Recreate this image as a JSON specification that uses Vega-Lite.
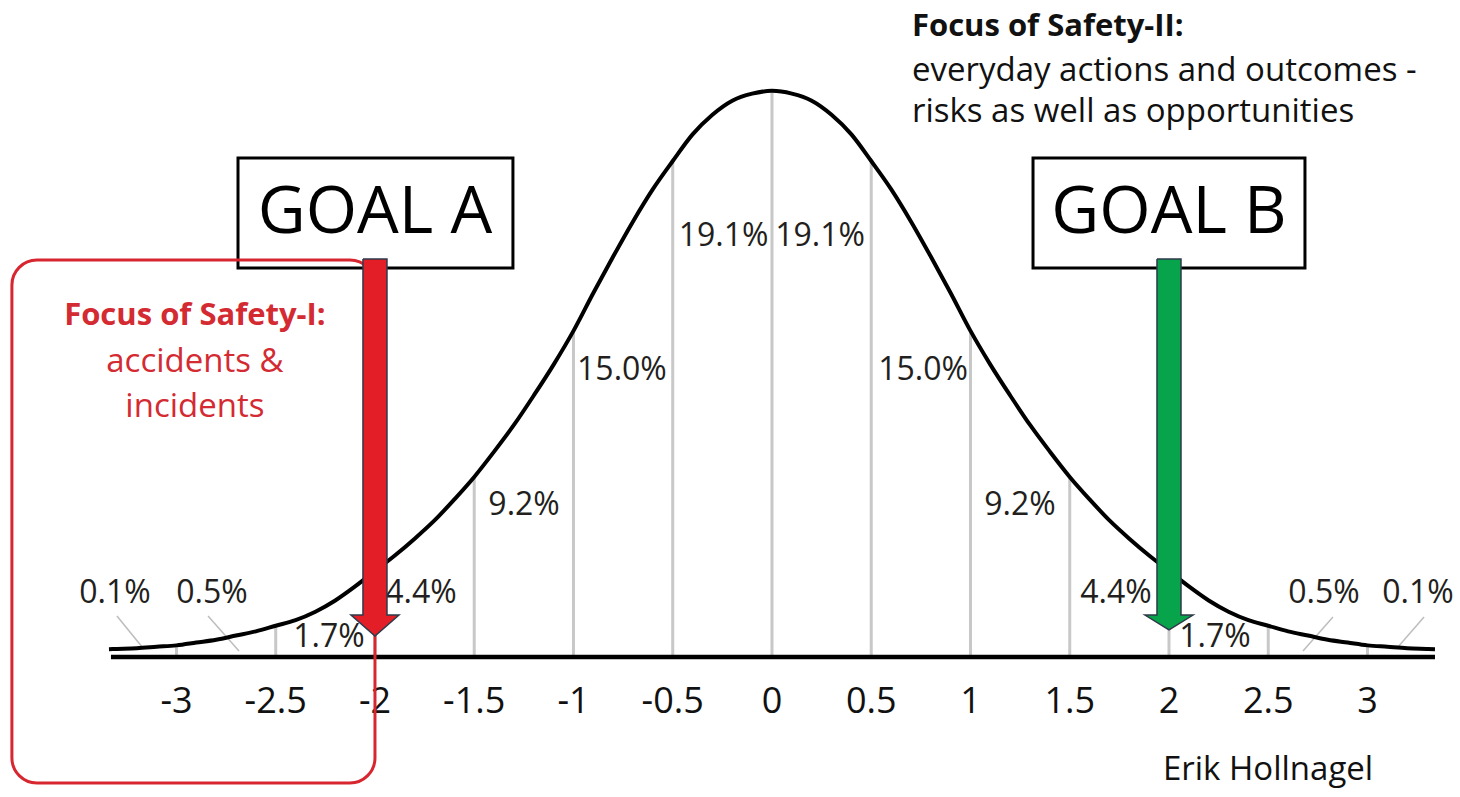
{
  "$schema": "https://vega.github.io/schema/vega-lite/v6.json",
  "width": 1460,
  "height": 797,
  "autosize": {"type": "fit", "contains": "padding"},
  "padding": 0,
  "background": "white",
  "config": {"view": {"stroke": null}, "text": {"font": "Open Sans"}},
  "datasets": {
    "curve": [
      {"x": -3.34, "d": 0.0013}, {"x": -3.3, "d": 0.0015}, {"x": -3.2, "d": 0.002}, {"x": -3.1, "d": 0.003},
      {"x": -3.0, "d": 0.004}, {"x": -2.9, "d": 0.006}, {"x": -2.8, "d": 0.008}, {"x": -2.7, "d": 0.011},
      {"x": -2.6, "d": 0.014}, {"x": -2.5, "d": 0.018}, {"x": -2.4, "d": 0.022}, {"x": -2.3, "d": 0.028},
      {"x": -2.2, "d": 0.036}, {"x": -2.1, "d": 0.046}, {"x": -2.0, "d": 0.057}, {"x": -1.9, "d": 0.068},
      {"x": -1.8, "d": 0.080}, {"x": -1.7, "d": 0.093}, {"x": -1.6, "d": 0.108}, {"x": -1.5, "d": 0.124},
      {"x": -1.4, "d": 0.142}, {"x": -1.3, "d": 0.161}, {"x": -1.2, "d": 0.182}, {"x": -1.1, "d": 0.204},
      {"x": -1.0, "d": 0.228}, {"x": -0.9, "d": 0.255}, {"x": -0.8, "d": 0.281}, {"x": -0.7, "d": 0.306},
      {"x": -0.6, "d": 0.329}, {"x": -0.5, "d": 0.349}, {"x": -0.4, "d": 0.368}, {"x": -0.3, "d": 0.382},
      {"x": -0.2, "d": 0.392}, {"x": -0.1, "d": 0.397}, {"x": 0.0, "d": 0.399},
      {"x": 0.1, "d": 0.397}, {"x": 0.2, "d": 0.392}, {"x": 0.3, "d": 0.382}, {"x": 0.4, "d": 0.368},
      {"x": 0.5, "d": 0.349}, {"x": 0.6, "d": 0.329}, {"x": 0.7, "d": 0.306}, {"x": 0.8, "d": 0.281},
      {"x": 0.9, "d": 0.255}, {"x": 1.0, "d": 0.228}, {"x": 1.1, "d": 0.204}, {"x": 1.2, "d": 0.182},
      {"x": 1.3, "d": 0.161}, {"x": 1.4, "d": 0.142}, {"x": 1.5, "d": 0.124}, {"x": 1.6, "d": 0.108},
      {"x": 1.7, "d": 0.093}, {"x": 1.8, "d": 0.080}, {"x": 1.9, "d": 0.068}, {"x": 2.0, "d": 0.057},
      {"x": 2.1, "d": 0.046}, {"x": 2.2, "d": 0.036}, {"x": 2.3, "d": 0.028}, {"x": 2.4, "d": 0.022},
      {"x": 2.5, "d": 0.018}, {"x": 2.6, "d": 0.014}, {"x": 2.7, "d": 0.011}, {"x": 2.8, "d": 0.008},
      {"x": 2.9, "d": 0.006}, {"x": 3.0, "d": 0.004}, {"x": 3.1, "d": 0.003}, {"x": 3.2, "d": 0.002},
      {"x": 3.3, "d": 0.0015}, {"x": 3.34, "d": 0.0013}
    ],
    "grid": [
      {"x": -3.0, "d": 0.004}, {"x": -2.5, "d": 0.018}, {"x": -2.0, "d": 0.057}, {"x": -1.5, "d": 0.124},
      {"x": -1.0, "d": 0.228}, {"x": -0.5, "d": 0.349}, {"x": 0.0, "d": 0.399}, {"x": 0.5, "d": 0.349},
      {"x": 1.0, "d": 0.228}, {"x": 1.5, "d": 0.124}, {"x": 2.0, "d": 0.057}, {"x": 2.5, "d": 0.018},
      {"x": 3.0, "d": 0.004}
    ],
    "leaders": [
      {"x": -3.300, "y": 0.0249, "x2": -3.169, "y2": 0.0021},
      {"x": -2.841, "y": 0.0249, "x2": -2.685, "y2": 0.0},
      {"x": 2.826, "y": 0.0242, "x2": 2.675, "y2": 0.0},
      {"x": 3.285, "y": 0.0242, "x2": 3.149, "y2": 0.0021}
    ],
    "pct": [
      {"x": -3.31, "y": 0.041, "t": "0.1%"},
      {"x": -2.821, "y": 0.041, "t": "0.5%"},
      {"x": -2.232, "y": 0.010, "t": "1.7%"},
      {"x": -1.768, "y": 0.041, "t": "4.4%"},
      {"x": -1.249, "y": 0.104, "t": "9.2%"},
      {"x": -0.756, "y": 0.200, "t": "15.0%"},
      {"x": -0.244, "y": 0.2956, "t": "19.1%"},
      {"x": 0.242, "y": 0.2956, "t": "19.1%"},
      {"x": 0.761, "y": 0.200, "t": "15.0%"},
      {"x": 1.249, "y": 0.104, "t": "9.2%"},
      {"x": 1.733, "y": 0.041, "t": "4.4%"},
      {"x": 2.232, "y": 0.010, "t": "1.7%"},
      {"x": 2.781, "y": 0.041, "t": "0.5%"},
      {"x": 3.254, "y": 0.041, "t": "0.1%"}
    ],
    "ticks": [
      {"x": -3.0, "t": "-3"}, {"x": -2.5, "t": "-2.5"}, {"x": -2.0, "t": "-2"}, {"x": -1.5, "t": "-1.5"},
      {"x": -1.0, "t": "-1"}, {"x": -0.5, "t": "-0.5"}, {"x": 0.0, "t": "0"}, {"x": 0.5, "t": "0.5"},
      {"x": 1.0, "t": "1"}, {"x": 1.5, "t": "1.5"}, {"x": 2.0, "t": "2"}, {"x": 2.5, "t": "2.5"},
      {"x": 3.0, "t": "3"}
    ],
    "goals": [
      {"x": -2.690, "x2": -1.305, "y": 0.3512, "y2": 0.2728, "cx": -2.0, "cy": 0.312, "t": "GOAL A"},
      {"x": 1.315, "x2": 2.685, "y": 0.3512, "y2": 0.2728, "cx": 2.0, "cy": 0.312, "t": "GOAL B"}
    ],
    "focusbox": [
      {"x": -3.829, "x2": -2.0, "y": 0.2785, "y2": -0.0940}
    ],
    "redArrow": [
      {"i": 1, "x": -2.0605, "y": 0.2792}, {"i": 2, "x": -1.9395, "y": 0.2792},
      {"i": 3, "x": -1.9395, "y": 0.0256}, {"i": 4, "x": -1.879, "y": 0.0256},
      {"i": 5, "x": -2.0, "y": 0.0107}, {"i": 6, "x": -2.121, "y": 0.0256},
      {"i": 7, "x": -2.0605, "y": 0.0256}, {"i": 8, "x": -2.0605, "y": 0.2792}
    ],
    "greenArrow": [
      {"i": 1, "x": 1.9395, "y": 0.2792}, {"i": 2, "x": 2.0605, "y": 0.2792},
      {"i": 3, "x": 2.0605, "y": 0.0256}, {"i": 4, "x": 2.121, "y": 0.0256},
      {"i": 5, "x": 2.0, "y": 0.0150}, {"i": 6, "x": 1.879, "y": 0.0256},
      {"i": 7, "x": 1.9395, "y": 0.0256}, {"i": 8, "x": 1.9395, "y": 0.2792}
    ],
    "safety1": [
      {"x": -2.907, "y": 0.2322, "t": "Focus of Safety-I:", "w": "bold"},
      {"x": -2.907, "y": 0.1987, "t": "accidents &", "w": "normal"},
      {"x": -2.907, "y": 0.1667, "t": "incidents", "w": "normal"}
    ],
    "safety2": [
      {"x": 0.705, "y": 0.4381, "t": "Focus of Safety-II:", "w": "bold"},
      {"x": 0.705, "y": 0.4060, "t": "everyday actions and outcomes -", "w": "normal"},
      {"x": 0.705, "y": 0.3768, "t": "risks as well as opportunities", "w": "normal"}
    ],
    "credit": [
      {"x": 2.499, "y": -0.0919, "t": "Erik Hollnagel"}
    ],
    "base": [
      {"x": -3.33, "x2": 3.34, "y": -0.0043}
    ]
  },
  "layer": [
    {
      "data": {"name": "grid"},
      "mark": {"type": "rule", "color": "#c8c8c8", "strokeWidth": 3},
      "encoding": {
        "x": {"field": "x", "type": "quantitative", "axis": null, "scale": {"domain": [-3.889, 3.466], "nice": false, "zero": false}},
        "y": {"field": "d", "type": "quantitative", "axis": null, "scale": {"domain": [-0.104, 0.4637], "nice": false, "zero": false}},
        "y2": {"datum": -0.0043}
      }
    },
    {
      "data": {"name": "leaders"},
      "mark": {"type": "rule", "color": "#bdbdbd", "strokeWidth": 1.5},
      "encoding": {
        "x": {"field": "x", "type": "quantitative"},
        "y": {"field": "y", "type": "quantitative"},
        "x2": {"field": "x2"},
        "y2": {"field": "y2"}
      }
    },
    {
      "data": {"name": "base"},
      "mark": {"type": "rule", "color": "#000000", "strokeWidth": 4.5},
      "encoding": {
        "x": {"field": "x", "type": "quantitative"},
        "x2": {"field": "x2"},
        "y": {"field": "y", "type": "quantitative"}
      }
    },
    {
      "data": {"name": "curve"},
      "mark": {"type": "line", "color": "#000000", "strokeWidth": 4, "interpolate": "monotone"},
      "encoding": {
        "x": {"field": "x", "type": "quantitative"},
        "y": {"field": "d", "type": "quantitative"}
      }
    },
    {
      "data": {"name": "pct"},
      "mark": {"type": "text", "fontSize": 32, "color": "#231f20", "align": "center", "baseline": "middle"},
      "encoding": {
        "x": {"field": "x", "type": "quantitative"},
        "y": {"field": "y", "type": "quantitative"},
        "text": {"field": "t"}
      }
    },
    {
      "data": {"name": "ticks"},
      "mark": {"type": "text", "fontSize": 36, "color": "#111111", "align": "center", "baseline": "middle"},
      "encoding": {
        "x": {"field": "x", "type": "quantitative"},
        "y": {"datum": -0.0363},
        "text": {"field": "t"}
      }
    },
    {
      "data": {"name": "goals"},
      "mark": {"type": "rect", "fill": "#ffffff", "stroke": "#000000", "strokeWidth": 3},
      "encoding": {
        "x": {"field": "x", "type": "quantitative"},
        "x2": {"field": "x2"},
        "y": {"field": "y", "type": "quantitative"},
        "y2": {"field": "y2"}
      }
    },
    {
      "data": {"name": "goals"},
      "mark": {"type": "text", "fontSize": 66, "color": "#000000", "align": "center", "baseline": "middle"},
      "encoding": {
        "x": {"field": "cx", "type": "quantitative"},
        "y": {"field": "cy", "type": "quantitative"},
        "text": {"field": "t"}
      }
    },
    {
      "data": {"name": "focusbox"},
      "mark": {"type": "rect", "fill": null, "fillOpacity": 0, "stroke": "#d7262f", "strokeWidth": 3, "cornerRadius": 25},
      "encoding": {
        "x": {"field": "x", "type": "quantitative"},
        "x2": {"field": "x2"},
        "y": {"field": "y", "type": "quantitative"},
        "y2": {"field": "y2"}
      }
    },
    {
      "data": {"name": "redArrow"},
      "mark": {"type": "line", "fill": "#e31e26", "stroke": "#2e3a4a", "strokeWidth": 1.5, "interpolate": "linear"},
      "encoding": {
        "x": {"field": "x", "type": "quantitative"},
        "y": {"field": "y", "type": "quantitative"},
        "order": {"field": "i", "type": "quantitative"}
      }
    },
    {
      "data": {"name": "greenArrow"},
      "mark": {"type": "line", "fill": "#08a44b", "stroke": "#2e3a4a", "strokeWidth": 1.5, "interpolate": "linear"},
      "encoding": {
        "x": {"field": "x", "type": "quantitative"},
        "y": {"field": "y", "type": "quantitative"},
        "order": {"field": "i", "type": "quantitative"}
      }
    },
    {
      "data": {"name": "safety1"},
      "transform": [{"filter": {"field": "w", "equal": "bold"}}],
      "mark": {"type": "text", "fontSize": 31, "fontWeight": "bold", "color": "#d42a32", "align": "center", "baseline": "alphabetic"},
      "encoding": {
        "x": {"field": "x", "type": "quantitative"},
        "y": {"field": "y", "type": "quantitative"},
        "text": {"field": "t"}
      }
    },
    {
      "data": {"name": "safety1"},
      "transform": [{"filter": {"field": "w", "equal": "normal"}}],
      "mark": {"type": "text", "fontSize": 33, "color": "#d42a32", "align": "center", "baseline": "alphabetic"},
      "encoding": {
        "x": {"field": "x", "type": "quantitative"},
        "y": {"field": "y", "type": "quantitative"},
        "text": {"field": "t"}
      }
    },
    {
      "data": {"name": "safety2"},
      "transform": [{"filter": {"field": "w", "equal": "bold"}}],
      "mark": {"type": "text", "fontSize": 31, "fontWeight": "bold", "color": "#111111", "align": "left", "baseline": "alphabetic"},
      "encoding": {
        "x": {"field": "x", "type": "quantitative"},
        "y": {"field": "y", "type": "quantitative"},
        "text": {"field": "t"}
      }
    },
    {
      "data": {"name": "safety2"},
      "transform": [{"filter": {"field": "w", "equal": "normal"}}],
      "mark": {"type": "text", "fontSize": 33, "color": "#111111", "align": "left", "baseline": "alphabetic"},
      "encoding": {
        "x": {"field": "x", "type": "quantitative"},
        "y": {"field": "y", "type": "quantitative"},
        "text": {"field": "t"}
      }
    },
    {
      "data": {"name": "credit"},
      "mark": {"type": "text", "fontSize": 33, "color": "#111111", "align": "center", "baseline": "alphabetic"},
      "encoding": {
        "x": {"field": "x", "type": "quantitative"},
        "y": {"field": "y", "type": "quantitative"},
        "text": {"field": "t"}
      }
    }
  ]
}
